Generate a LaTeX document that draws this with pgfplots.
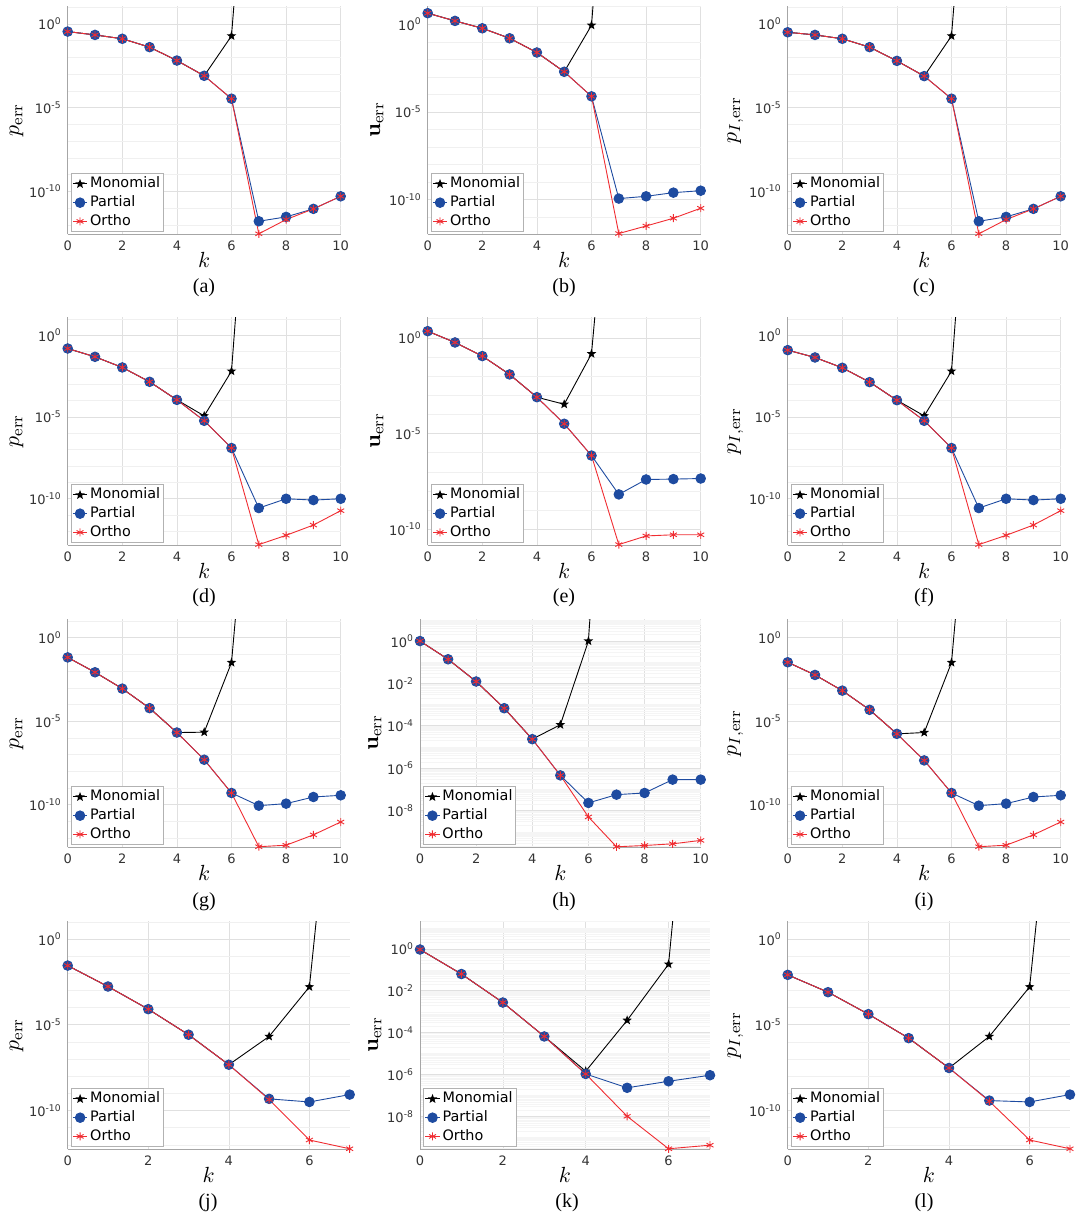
\documentclass[border=0pt]{standalone}
\usepackage[no-math]{fontspec}
\setmainfont{Liberation Serif}
\newfontfamily\dejavu{DejaVu Sans}
\usepackage{pgfplots}
\usepackage{pgfplotstable}
\pgfplotsset{compat=1.18}

\definecolor{partblue}{RGB}{30,75,160}
\definecolor{orthred}{RGB}{240,45,50}

% filled five-pointed star
\pgfdeclareplotmark{fstar}{%
  \pgfpathmoveto{\pgfqpointpolar{90}{\pgfplotmarksize}}%
  \pgfpathlineto{\pgfqpointpolar{126}{0.42\pgfplotmarksize}}%
  \pgfpathlineto{\pgfqpointpolar{162}{\pgfplotmarksize}}%
  \pgfpathlineto{\pgfqpointpolar{198}{0.42\pgfplotmarksize}}%
  \pgfpathlineto{\pgfqpointpolar{234}{\pgfplotmarksize}}%
  \pgfpathlineto{\pgfqpointpolar{270}{0.42\pgfplotmarksize}}%
  \pgfpathlineto{\pgfqpointpolar{306}{\pgfplotmarksize}}%
  \pgfpathlineto{\pgfqpointpolar{342}{0.42\pgfplotmarksize}}%
  \pgfpathlineto{\pgfqpointpolar{18}{\pgfplotmarksize}}%
  \pgfpathlineto{\pgfqpointpolar{54}{0.42\pgfplotmarksize}}%
  \pgfpathclose\pgfusepathqfill}

% tick label 10^n in the text font
\newcommand\tp[1]{10\raisebox{0.42em}{\fontsize{4.6}{4.6}\selectfont #1}}

% k  mono  part  orth  (monomial beyond k=6 is far off the chart)
\pgfplotstableread{
k mono part orth
0 3.47e-1 3.47e-1 3.47e-1
1 2.19e-1 2.19e-1 2.19e-1
2 1.29e-1 1.29e-1 1.29e-1
3 4.07e-2 4.07e-2 4.07e-2
4 6.46e-3 6.46e-3 6.46e-3
5 7.94e-4 7.94e-4 7.94e-4
6 1.91e-1 3.39e-5 3.39e-5
7 1e20 1.62e-12 2.88e-13
8 1e20 2.95e-12 2.04e-12
9 1e20 8.91e-12 8.91e-12
10 1e20 5.01e-11 5.01e-11
}\tabA
\pgfplotstableread{
k mono part orth
0 4.27 4.27 4.27
1 1.55 1.55 1.55
2 5.89e-1 5.89e-1 5.89e-1
3 1.585e-1 1.585e-1 1.585e-1
4 2.45e-2 2.45e-2 2.45e-2
5 1.95e-3 1.95e-3 1.95e-3
6 8.71e-1 7.76e-5 7.76e-5
7 1e20 1.15e-10 1.17e-12
8 1e20 1.55e-10 3.16e-12
9 1e20 2.51e-10 8.71e-12
10 1e20 3.24e-10 3.24e-11
}\tabB
\pgfplotstableread{
k mono part orth
0 3.16e-1 3.16e-1 3.16e-1
1 2.19e-1 2.19e-1 2.19e-1
2 1.29e-1 1.29e-1 1.29e-1
3 4.07e-2 4.07e-2 4.07e-2
4 6.17e-3 6.17e-3 6.17e-3
5 7.59e-4 7.59e-4 7.59e-4
6 1.91e-1 3.39e-5 3.39e-5
7 1e20 1.62e-12 2.88e-13
8 1e20 2.95e-12 2.04e-12
9 1e20 8.91e-12 8.91e-12
10 1e20 5.01e-11 5.01e-11
}\tabC
\pgfplotstableread{
k mono part orth
0 1.55e-1 1.55e-1 1.55e-1
1 4.79e-2 4.79e-2 4.79e-2
2 1.07e-2 1.07e-2 1.07e-2
3 1.41e-3 1.41e-3 1.41e-3
4 1.10e-4 1.10e-4 1.10e-4
5 1.15e-5 5.75e-6 5.75e-6
6 6.31e-3 1.23e-7 1.23e-7
7 1e20 2.57e-11 1.48e-13
8 1e20 9.55e-11 5.50e-13
9 1e20 7.94e-11 2.34e-12
10 1e20 9.55e-11 1.78e-11
}\tabD
\pgfplotstableread{
k mono part orth
0 2.24 2.24 2.24
1 5.75e-1 5.75e-1 5.75e-1
2 1.12e-1 1.12e-1 1.12e-1
3 1.23e-2 1.23e-2 1.23e-2
4 7.94e-4 7.94e-4 7.94e-4
5 3.39e-4 3.24e-5 3.24e-5
6 1.48e-1 7.08e-7 7.08e-7
7 1e15 6.61e-9 1.58e-11
8 1e20 3.98e-8 4.47e-11
9 1e20 4.17e-8 5.13e-11
10 1e20 4.47e-8 5.13e-11
}\tabE
\pgfplotstableread{
k mono part orth
0 1.23e-1 1.23e-1 1.23e-1
1 4.37e-2 4.37e-2 4.37e-2
2 1.02e-2 1.02e-2 1.02e-2
3 1.35e-3 1.35e-3 1.35e-3
4 1.05e-4 1.05e-4 1.05e-4
5 1.15e-5 5.75e-6 5.75e-6
6 6.31e-3 1.23e-7 1.23e-7
7 1e20 2.57e-11 1.48e-13
8 1e20 9.55e-11 5.50e-13
9 1e20 7.94e-11 2.34e-12
10 1e20 9.55e-11 1.78e-11
}\tabF
\pgfplotstableread{
k mono part orth
0 6.61e-2 6.61e-2 6.61e-2
1 8.51e-3 8.51e-3 8.51e-3
2 8.91e-4 8.91e-4 8.91e-4
3 6.03e-5 6.03e-5 6.03e-5
4 2.09e-6 2.09e-6 2.09e-6
5 2.19e-6 4.90e-8 4.90e-8
6 3.24e-2 5.01e-10 5.01e-10
7 1e17 8.71e-11 3.02e-13
8 1e20 1.15e-10 3.72e-13
9 1e20 2.88e-10 1.55e-12
10 1e20 3.63e-10 9.12e-12
}\tabG
\pgfplotstableread{
k mono part orth
0 1.0 1.0 1.0
1 1.38e-1 1.38e-1 1.38e-1
2 1.23e-2 1.23e-2 1.23e-2
3 6.76e-4 6.76e-4 6.76e-4
4 2.34e-5 2.34e-5 2.34e-5
5 1.12e-4 4.57e-7 4.57e-7
6 1.0 2.29e-8 5.01e-9
7 1e20 5.62e-8 1.95e-10
8 1e20 6.76e-8 2.24e-10
9 1e20 2.88e-7 2.69e-10
10 1e20 2.88e-7 3.89e-10
}\tabH
\pgfplotstableread{
k mono part orth
0 3.39e-2 3.39e-2 3.39e-2
1 5.89e-3 5.89e-3 5.89e-3
2 6.76e-4 6.76e-4 6.76e-4
3 4.79e-5 4.79e-5 4.79e-5
4 1.74e-6 1.74e-6 1.74e-6
5 2.09e-6 4.47e-8 4.47e-8
6 3.24e-2 5.01e-10 5.01e-10
7 1e17 8.71e-11 3.02e-13
8 1e20 1.15e-10 3.72e-13
9 1e20 2.88e-10 1.55e-12
10 1e20 3.63e-10 9.12e-12
}\tabI
\pgfplotstableread{
k mono part orth
0 2.82e-2 2.82e-2 2.82e-2
1 1.70e-3 1.70e-3 1.70e-3
2 8.13e-5 8.13e-5 8.13e-5
3 2.63e-6 2.63e-6 2.63e-6
4 4.68e-8 4.68e-8 4.68e-8
5 2.09e-6 4.79e-10 4.37e-10
6 1.62e-3 3.16e-10 1.91e-12
7 1e20 8.51e-10 5.89e-13
}\tabJ
\pgfplotstableread{
k mono part orth
0 9.33e-1 9.33e-1 9.33e-1
1 6.31e-2 6.31e-2 6.31e-2
2 2.75e-3 2.75e-3 2.75e-3
3 6.61e-5 6.61e-5 6.61e-5
4 1.45e-6 1.07e-6 1.07e-6
5 3.89e-4 2.34e-7 1.02e-8
6 1.86e-1 4.79e-7 2.88e-10
7 1e20 9.33e-7 4.27e-10
}\tabK
\pgfplotstableread{
k mono part orth
0 8.13e-3 8.13e-3 8.13e-3
1 7.94e-4 7.94e-4 7.94e-4
2 4.17e-5 4.17e-5 4.17e-5
3 1.66e-6 1.66e-6 1.66e-6
4 3.02e-8 3.02e-8 3.02e-8
5 2.09e-6 3.80e-10 3.47e-10
6 1.62e-3 3.16e-10 1.91e-12
7 1e20 8.51e-10 5.89e-13
}\tabL

% #1 table, #2 position, #3 width, #4 ylabel, #5 ymin, #6 ymax, #7 overriding keys
\newcommand\errpanel[7]{%
\begin{axis}[scale only axis, height=114pt, ymode=log,
  at={#2}, anchor=north west, width=#3, ylabel={#4}, ymin=#5, ymax=#6,
  xmin=0, xmax=10, xtick={0,2,4,6,8,10},
  ytick={1e-10,1e-5,1}, yticklabels={\tp{-10},\tp{-5},\tp{0}},
  minor ytick={1e1,1e-1,1e-2,1e-3,1e-4,1e-6,1e-7,1e-8,1e-9,1e-11,1e-12},
  axis x line*=bottom, axis y line*=left,
  axis line style={black!35, line width=0.4pt},
  major tick length=0pt, minor tick length=0pt,
  grid=both,
  major grid style={black!12, line width=0.3pt},
  minor grid style={black!6, line width=0.25pt},
  tick label style={font=\dejavu\fontsize{6.5}{6.5}\selectfont, text=black!80},
  xticklabel={\pgfmathprintnumber[assume math mode=true]{\tick}},
  xlabel={$k$},
  every axis label/.append style={font=\fontsize{11}{12}\selectfont},
  xlabel shift=-6pt, ylabel shift=-4pt,
  legend style={at={(0.012,0.008)}, anchor=south west,
    draw=black!30, line width=0.4pt, fill=white,
    font=\dejavu\fontsize{7.2}{7.2}\selectfont,
    inner sep=0.5pt, row sep=0pt, nodes={inner sep=1.2pt}, cells={anchor=west}},
  legend image code/.code={\draw[mark repeat=2,mark phase=2] plot coordinates {(0pt,0pt)(3.6pt,0pt)(7.2pt,0pt)};},
  #7]
\addplot[black, line width=0.45pt, mark=fstar, mark size=2.5pt] table[x=k,y=mono]{#1};
\addplot[partblue, line width=0.45pt, mark=*, mark size=2.4pt] table[x=k,y=part]{#1};
\addplot[orthred, line width=0.45pt, mark=asterisk, mark size=2pt] table[x=k,y=orth]{#1};
\legend{Monomial,Partial,Ortho}
\end{axis}}

\begin{document}
\begin{tikzpicture}
\path[use as bounding box] (0,0) rectangle (540.5pt,-608pt);

\errpanel{\tabA}{(33.85pt,-3pt)}{136.5pt}{$p_{\mathrm{err}}$}{2.8e-13}{11.7}{}
\errpanel{\tabB}{(213.85pt,-3pt)}{136.5pt}{$\mathbf{u}_{\mathrm{err}}$}{1.1e-12}{10.96}{}
\errpanel{\tabC}{(393.85pt,-3pt)}{136.5pt}{$p_{I,\mathrm{err}}$}{2.8e-13}{11.7}{}

\errpanel{\tabD}{(33.85pt,-158.5pt)}{136.5pt}{$p_{\mathrm{err}}$}{1.4e-13}{13.2}{}
\errpanel{\tabE}{(213.85pt,-158.5pt)}{136.5pt}{$\mathbf{u}_{\mathrm{err}}$}{1.5e-11}{12.3}{}
\errpanel{\tabF}{(393.85pt,-158.5pt)}{136.5pt}{$p_{I,\mathrm{err}}$}{1.4e-13}{13.2}{}

\errpanel{\tabG}{(33.85pt,-309.5pt)}{136.5pt}{$p_{\mathrm{err}}$}{2.9e-13}{13.2}{}
\errpanel{\tabH}{(210pt,-309.5pt)}{140.35pt}{$\mathbf{u}_{\mathrm{err}}$}{1.9e-10}{10.96}{ytick={1e-8,1e-6,1e-4,1e-2,1},
  yticklabels={\tp{-8},\tp{-6},\tp{-4},\tp{-2},\tp{0}},
  minor grid style={black!4, line width=0.2pt},
  minor ytick={10,9,8,7,6,5,4,3,2,0.9,0.8,0.7,0.6,0.5,0.4,0.3,0.2,0.1,
    9e-2,8e-2,7e-2,6e-2,5e-2,4e-2,3e-2,2e-2,1e-2,9e-3,8e-3,7e-3,6e-3,5e-3,4e-3,3e-3,2e-3,1e-3,
    9e-4,8e-4,7e-4,6e-4,5e-4,4e-4,3e-4,2e-4,1e-4,9e-5,8e-5,7e-5,6e-5,5e-5,4e-5,3e-5,2e-5,1e-5,
    9e-6,8e-6,7e-6,6e-6,5e-6,4e-6,3e-6,2e-6,1e-6,9e-7,8e-7,7e-7,6e-7,5e-7,4e-7,3e-7,2e-7,1e-7,
    9e-8,8e-8,7e-8,6e-8,5e-8,4e-8,3e-8,2e-8,1e-8,9e-9,8e-9,7e-9,6e-9,5e-9,4e-9,3e-9,2e-9,1e-9,
    9e-10,8e-10,7e-10,6e-10,5e-10,4e-10,3e-10,2e-10}}
\errpanel{\tabI}{(393.85pt,-309.5pt)}{136.5pt}{$p_{I,\mathrm{err}}$}{2.9e-13}{13.2}{}

\errpanel{\tabJ}{(33.85pt,-460.5pt)}{141pt}{$p_{\mathrm{err}}$}{5.7e-13}{11.2}{xmax=7, xtick={0,2,4,6}}
\errpanel{\tabK}{(210pt,-460.5pt)}{145pt}{$\mathbf{u}_{\mathrm{err}}$}{2.8e-10}{21.4}{xmax=7, xtick={0,2,4,6},
  ytick={1e-8,1e-6,1e-4,1e-2,1},
  yticklabels={\tp{-8},\tp{-6},\tp{-4},\tp{-2},\tp{0}},
  minor grid style={black!4, line width=0.2pt},
  minor ytick={20,10,9,8,7,6,5,4,3,2,0.9,0.8,0.7,0.6,0.5,0.4,0.3,0.2,0.1,
    9e-2,8e-2,7e-2,6e-2,5e-2,4e-2,3e-2,2e-2,1e-2,9e-3,8e-3,7e-3,6e-3,5e-3,4e-3,3e-3,2e-3,1e-3,
    9e-4,8e-4,7e-4,6e-4,5e-4,4e-4,3e-4,2e-4,1e-4,9e-5,8e-5,7e-5,6e-5,5e-5,4e-5,3e-5,2e-5,1e-5,
    9e-6,8e-6,7e-6,6e-6,5e-6,4e-6,3e-6,2e-6,1e-6,9e-7,8e-7,7e-7,6e-7,5e-7,4e-7,3e-7,2e-7,1e-7,
    9e-8,8e-8,7e-8,6e-8,5e-8,4e-8,3e-8,2e-8,1e-8,9e-9,8e-9,7e-9,6e-9,5e-9,4e-9,3e-9,2e-9,1e-9,
    9e-10,8e-10,7e-10,6e-10,5e-10,4e-10,3e-10}}
\errpanel{\tabL}{(393.85pt,-460.5pt)}{141.15pt}{$p_{I,\mathrm{err}}$}{5.7e-13}{11.2}{xmax=7, xtick={0,2,4,6}}

\begin{scope}[font=\fontsize{10}{12}\selectfont]
\node at (102pt,-144pt) {(a)};
\node at (282pt,-144pt) {(b)};
\node at (462pt,-144pt) {(c)};
\node at (102pt,-299pt) {(d)};
\node at (282pt,-299pt) {(e)};
\node at (462pt,-299pt) {(f)};
\node at (102pt,-451pt) {(g)};
\node at (282pt,-451pt) {(h)};
\node at (462pt,-451pt) {(i)};
\node at (104pt,-601.5pt) {(j)};
\node at (283.5pt,-601.5pt) {(k)};
\node at (462pt,-601.5pt) {(l)};
\end{scope}
\end{tikzpicture}
\end{document}
